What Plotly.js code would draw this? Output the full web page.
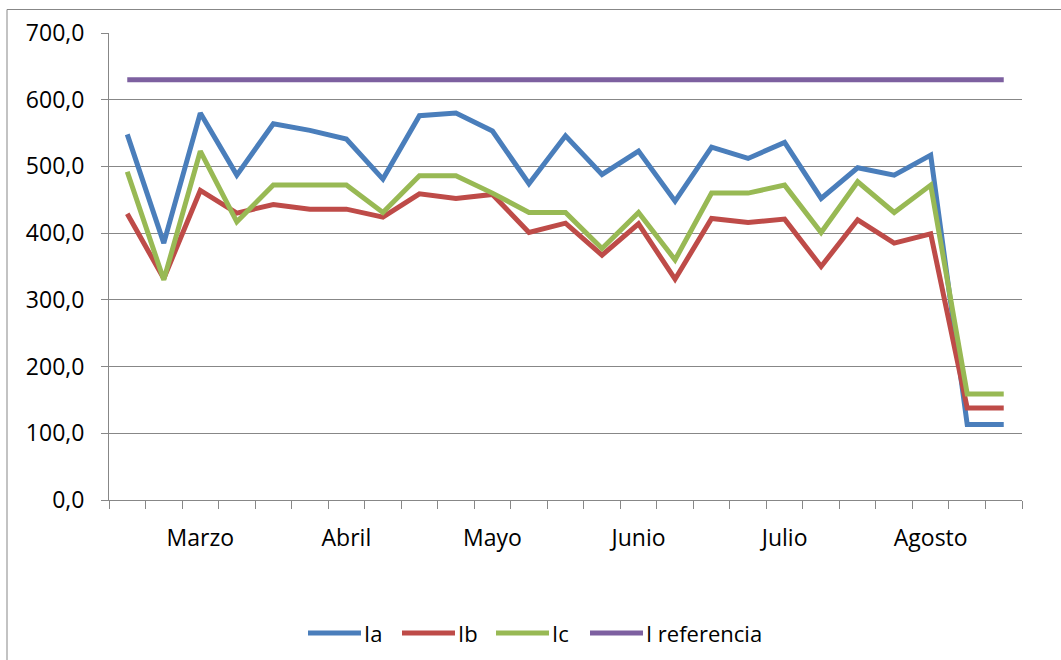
<!DOCTYPE html>
<html>
<head>
<meta charset="utf-8">
<script src="https://cdn.plot.ly/plotly-3.0.1.min.js"></script>
<style>
  html, body { margin: 0; padding: 0; background: #fff; overflow: hidden; }
  #chart { width: 1061px; height: 660px; }
</style>
</head>
<body>
<div id="chart"></div>
<script>
// Category labels (one per data point; only some are labelled)
const xLabels = ['', '', 'Marzo', '', '', '', 'Abril', '', '', '', 'Mayo', '', '', '',
                 'Junio', '', '', '', 'Julio', '', '', '', 'Agosto', '', ''];

const Ia   = [548, 385, 580, 487, 564, 554, 541, 481, 576, 580, 553, 474, 546, 488, 523, 448, 529, 512, 536, 452, 498, 487, 517, 113, 113];
const Ib   = [429, 332, 464, 430, 443, 436, 436, 424, 459, 452, 458, 401, 415, 367, 414, 331, 422, 416, 421, 350, 420, 385, 399, 138, 138];
const Ic   = [492, 330, 523, 417, 472, 472, 472, 431, 486, 486, 460, 431, 431, 377, 431, 360, 460, 460, 472, 401, 477, 431, 472, 159, 159];
const Iref = [630, 630, 630, 630, 630, 630, 630, 630, 630, 630, 630, 630, 630, 630, 630, 630, 630, 630, 630, 630, 630, 630, 630, 630, 630];

const seriesNames  = ['Ia', 'Ib', 'Ic', 'I referencia'];
const seriesColors = ['#4A7EBB', '#BE4B48', '#98B954', '#7D60A0'];

const idx = xLabels.map((_, i) => i);
const labelVals = idx.filter(i => xLabels[i] !== '');
const labelText = labelVals.map(i => xLabels[i]);

const traces = [Ia, Ib, Ic, Iref].map((ys, k) => ({
  type: 'scatter', mode: 'lines',
  x: idx, y: ys, name: seriesNames[k],
  line: { color: seriesColors[k], width: 5 },
  hoverinfo: 'skip', showlegend: false
}));

// invisible trace on overlaid axis to carry the category labels
traces.push({
  type: 'scatter', mode: 'lines', x: idx, y: Ia, xaxis: 'x2',
  line: { width: 0, color: 'rgba(0,0,0,0)' }, showlegend: false, hoverinfo: 'skip'
});

const gridC = '#878787';
const fontFam = 'Open Sans, sans-serif';
const n = xLabels.length;

// plot-area geometry (pixels) used to place the legend decoration
const PL = 109, PW = 913, PT = 33, PH = 467;
const px2x = p => (p - PL) / PW;
const py2y = p => (PT + PH - p) / PH;

const shapes = [{
  type: 'rect', xref: 'paper', yref: 'paper', layer: 'below',
  x0: px2x(7), x1: px2x(1075), y0: py2y(675), y1: py2y(9.5),
  line: { color: gridC, width: 1 }, fillcolor: 'rgba(0,0,0,0)'
}];
const annotations = [];
const legY = 633, legX0 = 308, legStep = 94, legLine = 53;
seriesNames.forEach((nm, k) => {
  const x0 = legX0 + k * legStep;
  shapes.push({
    type: 'line', xref: 'paper', yref: 'paper',
    x0: px2x(x0), x1: px2x(x0 + legLine), y0: py2y(legY), y1: py2y(legY),
    line: { color: seriesColors[k], width: 5 }
  });
  annotations.push({
    xref: 'paper', yref: 'paper', x: px2x(x0 + legLine + 1), y: py2y(legY),
    xanchor: 'left', yanchor: 'middle', showarrow: false, text: nm,
    font: { family: fontFam, size: 22, color: '#000' }
  });
});

const layout = {
  width: 1061, height: 660,
  margin: { l: PL, r: 1061 - PL - PW, t: PT, b: 660 - PT - PH },
  paper_bgcolor: '#fff', plot_bgcolor: '#fff',
  separators: ', ',
  font: { family: fontFam, size: 23, color: '#000' },
  showlegend: false,
  xaxis: {
    range: [-0.5, n - 0.5], tickmode: 'linear', tick0: -0.5, dtick: 1,
    showticklabels: false, ticks: 'outside', ticklen: 8, tickcolor: gridC, tickwidth: 1,
    showgrid: false, zeroline: false, showline: true, linecolor: gridC, linewidth: 1,
    fixedrange: true
  },
  xaxis2: {
    overlaying: 'x', matches: 'x', side: 'bottom', anchor: 'y',
    tickmode: 'array', tickvals: labelVals, ticktext: labelText,
    ticks: 'outside', ticklen: 17, tickcolor: 'rgba(0,0,0,0)',
    showgrid: false, zeroline: false, showline: false,
    tickfont: { family: fontFam, size: 23, color: '#000' }
  },
  yaxis: {
    range: [0, 700], tickmode: 'linear', tick0: 0, dtick: 100, tickformat: '.1f',
    ticks: 'outside', ticklen: 7, tickcolor: gridC, tickwidth: 1,
    ticklabelstandoff: 12,
    showgrid: true, gridcolor: gridC, gridwidth: 1,
    zeroline: false, showline: true, linecolor: gridC, linewidth: 1,
    tickfont: { family: fontFam, size: 23, color: '#000' },
    fixedrange: true
  },
  shapes: shapes,
  annotations: annotations
};

Plotly.newPlot('chart', traces, layout, { staticPlot: true, displayModeBar: false });
</script>
</body>
</html>
